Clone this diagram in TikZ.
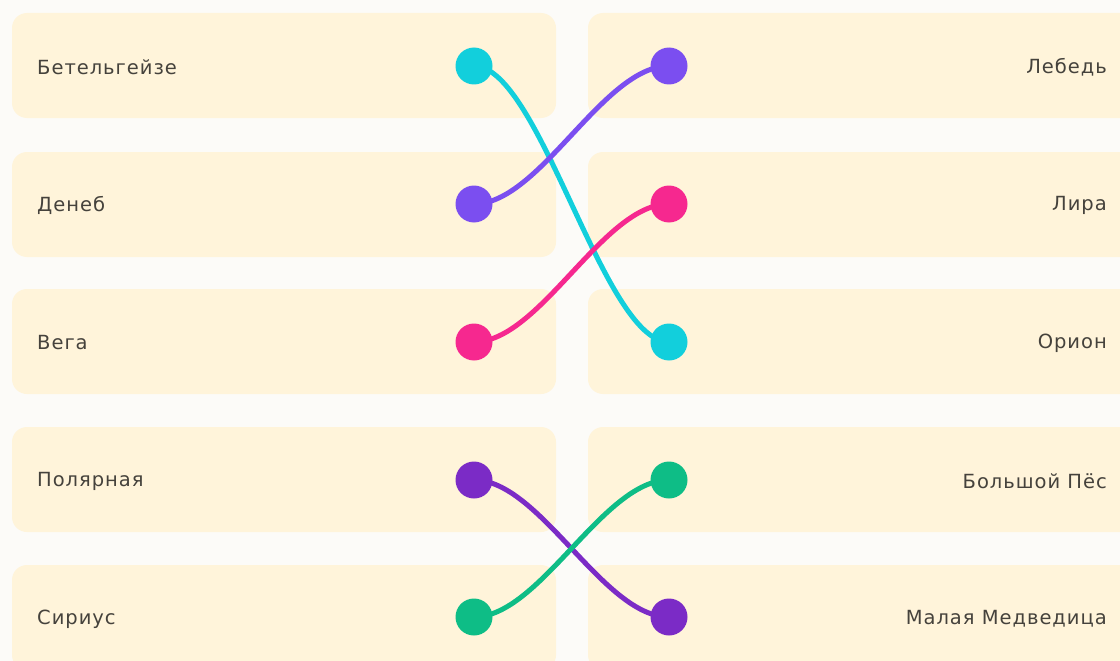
\documentclass[tikz,border=0pt]{standalone}
\usepackage{fontspec}
\setmainfont[LetterSpace=5]{DejaVu Sans}
\definecolor{bg}{HTML}{FCFBF8}
\definecolor{boxc}{HTML}{FFF4DA}
\definecolor{txt}{HTML}{45423C}
\definecolor{ccyan}{HTML}{12CFDC}
\definecolor{cblue}{HTML}{7B4EF0}
\definecolor{cpink}{HTML}{F6288F}
\definecolor{cviol}{HTML}{7B2BC6}
\definecolor{cgreen}{HTML}{0EBD86}
\begin{document}
\begin{tikzpicture}[x=1pt,y=-1pt,
  card/.style={fill=boxc,rounded corners=15pt},
  lbl/.style={text=txt,font=\fontsize{19.5}{22}\selectfont,inner sep=0pt},
  dot/.style={circle,minimum size=37pt,inner sep=0pt},
  link/.style={line width=5pt,line cap=round}]
\fill[bg] (0,0) rectangle (1120,661);
\useasboundingbox (0,0) rectangle (1120,661);
\foreach \y in {13,152,289,427,565}{
  \fill[card] (12,\y) rectangle (556,\y+105);
  \fill[card] (588,\y) rectangle (1150,\y+105);
}
\node[lbl,anchor=west] (l1) at (37,67) {Бетельгейзе};
\node[lbl,anchor=west] (l2) at (37,205) {Денеб};
\node[lbl,anchor=west] (l3) at (37,343) {Вега};
\node[lbl,anchor=west] (l4) at (37,481) {Полярная};
\node[lbl,anchor=west] (l5) at (37,619) {Сириус};
\node[lbl,anchor=east] (r1) at (1107,67) {Лебедь};
\node[lbl,anchor=east] (r2) at (1107,205) {Лира};
\node[lbl,anchor=east] (r3) at (1107,343) {Орион};
\node[lbl,anchor=east] (r4) at (1107,481) {Большой Пёс};
\node[lbl,anchor=east] (r5) at (1107,619) {Малая Медведица};
\coordinate (a1) at (474,66);
\coordinate (a2) at (474,204);
\coordinate (a3) at (474,342);
\coordinate (a4) at (474,480);
\coordinate (a5) at (474,617);
\coordinate (b1) at (669,66);
\coordinate (b2) at (669,204);
\coordinate (b3) at (669,342);
\coordinate (b4) at (669,480);
\coordinate (b5) at (669,617);
\draw[link,ccyan] (a1) .. controls (540,66) and (603,342) .. (b3);
\draw[link,cblue] (a2) .. controls (540,204) and (603,66) .. (b1);
\draw[link,cpink] (a3) .. controls (540,342) and (603,204) .. (b2);
\draw[link,cviol] (a4) .. controls (540,480) and (603,617) .. (b5);
\draw[link,cgreen] (a5) .. controls (540,617) and (603,480) .. (b4);
\node[dot,fill=ccyan] (d1) at (a1) {};
\node[dot,fill=cblue] (d2) at (a2) {};
\node[dot,fill=cpink] (d3) at (a3) {};
\node[dot,fill=cviol] (d4) at (a4) {};
\node[dot,fill=cgreen] (d5) at (a5) {};
\node[dot,fill=cblue] (e1) at (b1) {};
\node[dot,fill=cpink] (e2) at (b2) {};
\node[dot,fill=ccyan] (e3) at (b3) {};
\node[dot,fill=cgreen] (e4) at (b4) {};
\node[dot,fill=cviol] (e5) at (b5) {};
\end{tikzpicture}
\end{document}
